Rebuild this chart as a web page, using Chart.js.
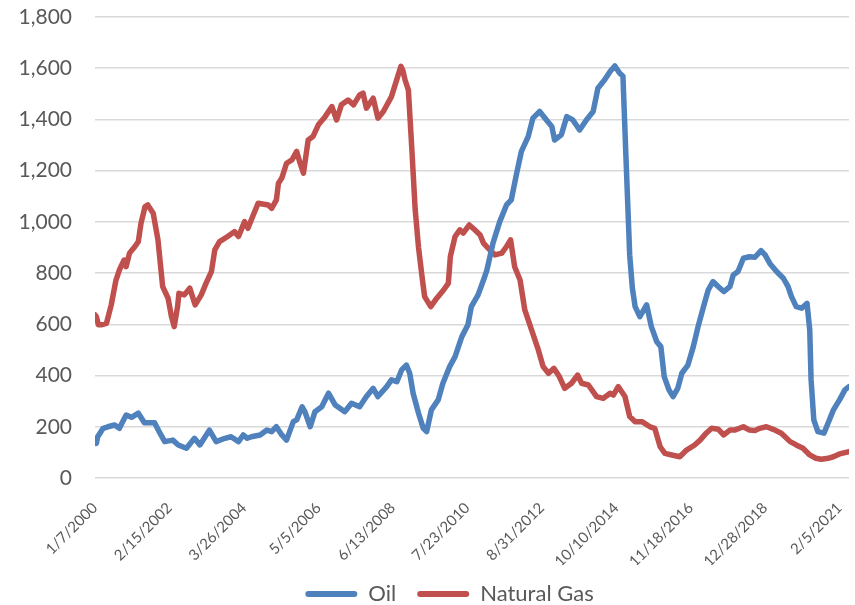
<!DOCTYPE html>
<html>
<head>
<meta charset="utf-8">
<script src="https://cdn.jsdelivr.net/npm/chart.js@4.4.1/dist/chart.umd.min.js"></script>
<style>
html,body{margin:0;padding:0;background:#fff;}
#wrap{width:855px;height:605px;}
</style>
</head>
<body>
<div id="wrap"><canvas id="c" width="855" height="605"></canvas></div>
<script>
// Week index (weeks since 1/7/2000) and rig counts
const oilWeeks = [0,2,4,12,19,29,36,46,54,64,73,88,96,103,115,123,135,147,155,169,179,192,201,212,219,225,231,244,254,261,268,276,283,293,298,306,310,318,325,335,345,355,369,379,391,401,411,418,431,438,446,453,460,465,470,478,485,490,497,507,514,524,532,542,551,556,566,574,579,588,598,608,615,623,630,640,647,657,667,675,679,689,697,706,716,726,736,743,753,761,768,775,780,785,790,794,798,805,815,822,830,836,841,848,854,861,867,876,884,891,899,906,913,921,929,938,943,950,958,967,975,984,990,997,1007,1017,1024,1029,1036,1044,1052,1056,1058,1062,1068,1077,1083,1091,1100,1108,1114];
const oilValues = [155,135,161,194,200,207,194,246,237,253,216,216,175,142,148,129,116,155,129,187,142,155,161,142,168,155,161,168,187,181,200,168,148,220,227,278,259,200,259,278,331,285,259,292,278,318,350,318,357,383,376,422,441,409,331,253,194,181,266,305,370,435,474,552,598,669,715,773,812,917,1001,1066,1086,1190,1275,1333,1405,1431,1398,1372,1320,1340,1411,1398,1359,1398,1431,1522,1555,1587,1609,1581,1569,1216,870,740,669,630,676,591,532,513,396,344,318,350,409,441,513,591,669,734,767,747,728,747,793,806,858,864,862,888,871,838,806,780,747,708,669,663,682,578,383,227,181,175,214,266,305,344,357];

const gasWeeks = [0,2,5,9,17,24,31,36,43,46,51,59,64,68,74,78,86,93,100,108,113,117,122,124,132,140,148,157,164,172,177,184,196,206,212,221,226,231,241,256,261,268,271,276,283,291,298,303,308,315,322,330,340,350,357,364,374,382,391,396,401,411,418,426,438,448,452,455,458,463,468,473,478,483,487,496,505,515,522,525,532,539,544,553,561,569,574,581,591,601,608,614,620,628,635,645,655,662,670,678,686,694,704,713,719,729,741,751,761,766,773,783,790,798,808,820,827,835,842,852,864,874,886,894,903,911,921,929,938,945,958,967,975,982,992,1002,1014,1027,1036,1046,1056,1065,1073,1083,1091,1100,1114];
const gasValues = [637,630,598,598,604,676,773,812,851,825,878,904,923,995,1060,1066,1034,930,747,702,630,591,669,721,715,741,676,715,760,806,891,923,943,962,943,1001,975,1008,1073,1066,1053,1086,1151,1171,1229,1242,1275,1229,1190,1320,1333,1379,1411,1450,1398,1457,1476,1457,1496,1503,1444,1483,1405,1431,1489,1574,1607,1590,1555,1515,1290,1050,900,790,708,669,702,734,760,864,943,969,956,988,969,949,917,897,871,878,904,930,825,773,656,578,500,435,409,428,396,350,370,402,370,363,318,311,331,324,357,318,240,220,220,200,194,122,96,90,83,109,129,148,175,194,190,168,187,187,200,187,185,194,200,190,175,142,129,116,90,77,73,77,83,94,103];

const tickWeeks = [0,110,220,330,440,550,660,770,880,990,1100];
const tickLabels = ["1/7/2000","2/15/2002","3/26/2004","5/5/2006","6/13/2008","7/23/2010","8/31/2012","10/10/2014","11/18/2016","12/28/2018","2/5/2021"];
const seriesNames = ["Oil","Natural Gas"];
const seriesColors = ["#4F81BD","#C0504D"];

const toPts = (ws, vs) => ws.map((w, i) => ({x: w, y: vs[i]}));
const FONT = "Lato, 'Open Sans', sans-serif";
const TXT = "#595959";

const shiftLegend = {
  id: 'shiftLegend',
  afterLayout(chart) {
    const lg = chart.legend;
    if (!lg) return;
    lg.left += 25; lg.right += 25;
    lg.top -= 3; lg.bottom -= 3;
  }
};

new Chart(document.getElementById('c'), {
  type: 'line',
  plugins: [shiftLegend],
  data: {
    datasets: [
      {label: seriesNames[0], data: toPts(oilWeeks, oilValues), borderColor: seriesColors[0], backgroundColor: seriesColors[0], borderWidth: 5.5, pointRadius: 0, tension: 0, borderCapStyle: 'round', borderJoinStyle: 'round'},
      {label: seriesNames[1], data: toPts(gasWeeks, gasValues), borderColor: seriesColors[1], backgroundColor: seriesColors[1], borderWidth: 5.5, pointRadius: 0, tension: 0, borderCapStyle: 'round', borderJoinStyle: 'round'}
    ]
  },
  options: {
    responsive: false,
    animation: false,
    devicePixelRatio: 1,
    layout: {padding: {top: 17, right: 6, left: 0, bottom: 0}},
    plugins: {
      tooltip: {enabled: false},
      legend: {
        position: 'bottom',
        maxHeight: 40,
        labels: {
          font: {family: FONT, size: 22},
          color: TXT,
          boxWidth: 52,
          boxHeight: 6,
          useBorderRadius: true,
          borderRadius: 3,
          padding: 21,
          generateLabels: (chart) => Chart.defaults.plugins.legend.labels.generateLabels(chart).map(l => Object.assign(l, {lineWidth: 0, fillStyle: seriesColors[l.datasetIndex]}))
        }
      }
    },
    scales: {
      x: {
        type: 'linear',
        min: 0,
        max: 1114,
        grid: {display: false, drawTicks: false},
        border: {display: false},
        afterBuildTicks: (s) => { s.ticks = tickWeeks.map(v => ({value: v})); },
        afterFit: (s) => { s.height = 605 - s.chart.legend.height - 478; s.paddingLeft = 0; s.paddingRight = 0; },
        ticks: {
          autoSkip: false,
          minRotation: 45,
          maxRotation: 45,
          padding: 21,
          color: TXT,
          font: {family: FONT, size: 15},
          callback: (v) => { const i = tickWeeks.indexOf(v); return i >= 0 ? tickLabels[i] : ''; }
        }
      },
      y: {
        min: 0,
        max: 1800,
        grid: {color: '#D9D9D9', lineWidth: 1.5, drawTicks: false},
        border: {display: false},
        afterFit: (s) => { s.width = 95; s.paddingTop = 0; s.paddingBottom = 0; },
        ticks: {stepSize: 200, padding: 23, color: TXT, font: {family: FONT, size: 21}}
      }
    }
  }
});
</script>
</body>
</html>
